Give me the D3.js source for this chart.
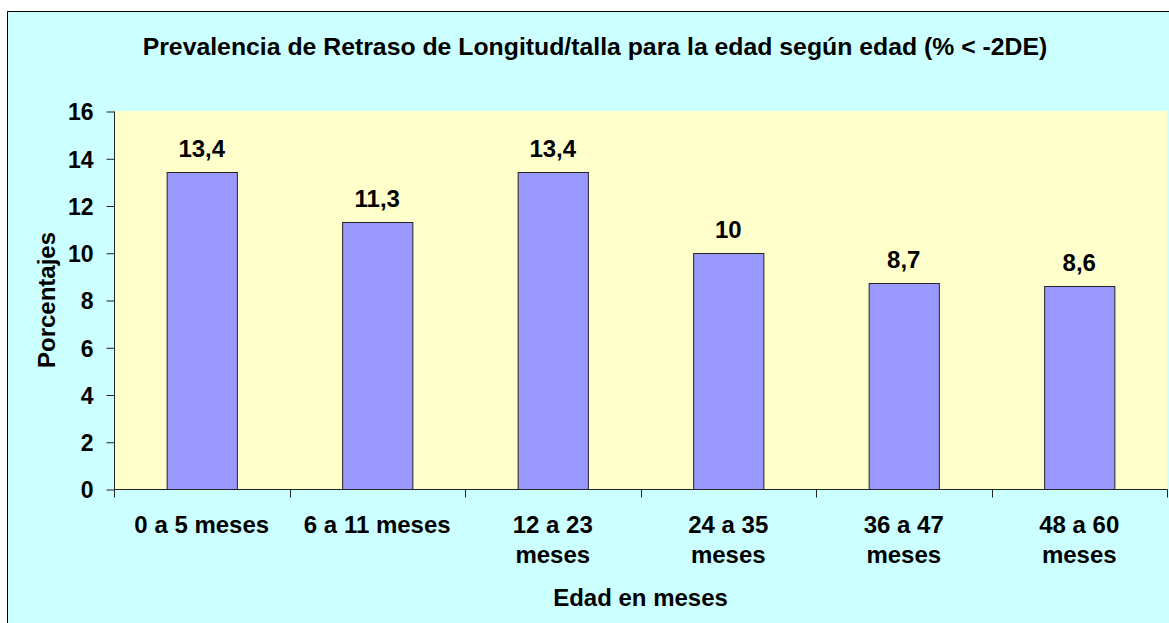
<!DOCTYPE html>
<html>
<head>
<meta charset="utf-8">
<script src="https://cdn.jsdelivr.net/npm/d3@7"></script>
<style>
  body { margin: 0; background: #fff; }
  text { font-family: "Liberation Sans", Arial, sans-serif; font-weight: bold; fill: #000; }
</style>
</head>
<body>
<div id="root"></div>
<script>
const WIDTH = 1169;
const HEIGHT = 623;
const MARGIN = {top: 111, right: 2, bottom: 134, left: 114};
const FONT = "24px";

const categories = [["0 a 5 meses"], ["6 a 11 meses"], ["12 a 23", "meses"], ["24 a 35", "meses"], ["36 a 47", "meses"], ["48 a 60", "meses"]];
const values = [13.4, 11.3, 13.4, 10, 8.7, 8.6];
const valueLabels = ["13,4", "11,3", "13,4", "10", "8,7", "8,6"];
const yTicks = [0, 2, 4, 6, 8, 10, 12, 14, 16];

const svg = d3.select("#root")
    .append("svg")
    .attr("width", WIDTH)
    .attr("height", HEIGHT);

// chart background + border
svg.append("rect")
    .attr("x", 7.5).attr("y", 11.5)
    .attr("width", WIDTH).attr("height", HEIGHT)
    .attr("fill", "#CCFFFF")
    .attr("stroke", "#000")
    .attr("stroke-width", 1);

const xScale = d3.scaleBand()
    .domain(d3.range(categories.length))
    .range([MARGIN.left, WIDTH - MARGIN.right])
    .paddingInner(0.6)
    .paddingOuter(0.3);

const bandScale = d3.scaleBand()
    .domain(d3.range(categories.length))
    .range([MARGIN.left, WIDTH - MARGIN.right]);

const yScale = d3.scaleLinear()
    .domain([0, 16])
    .range([HEIGHT - MARGIN.bottom, MARGIN.top]);

// plot area
svg.append("rect")
    .attr("x", MARGIN.left).attr("y", MARGIN.top)
    .attr("width", WIDTH - MARGIN.right - MARGIN.left)
    .attr("height", yScale(0) - MARGIN.top)
    .attr("fill", "#FFFFCC");

// bars
svg.selectAll(".bar")
    .data(values)
    .enter()
    .append("rect")
    .attr("class", "bar")
    .attr("x", (d, i) => xScale(i) + 0.5)
    .attr("y", d => Math.round(yScale(d)) + 0.5)
    .attr("width", xScale.bandwidth())
    .attr("height", d => yScale(0) - Math.round(yScale(d)))
    .attr("fill", "#9999FF")
    .attr("stroke", "#222")
    .attr("stroke-width", 1);

// value labels
svg.selectAll(".val")
    .data(values)
    .enter()
    .append("text")
    .attr("class", "val")
    .attr("x", (d, i) => xScale(i) + xScale.bandwidth() / 2)
    .attr("y", d => yScale(d) - 15)
    .attr("text-anchor", "middle")
    .style("font-size", FONT)
    .text((d, i) => valueLabels[i]);

// y axis
const yAxis = d3.axisLeft(yScale).tickValues(yTicks).tickSize(8).tickPadding(13).tickFormat(d3.format("d"));
const yG = svg.append("g")
    .attr("transform", `translate(${MARGIN.left + 0.5},0.5)`)
    .call(yAxis);
yG.selectAll("text").style("font-size", "23px").attr("dy", "0.36em");
yG.selectAll("line").attr("stroke", "#222");
yG.select(".domain").attr("stroke", "#222").attr("d", `M0,${MARGIN.top}V${yScale(0)}`);

// x axis
const xAxis = d3.axisBottom(bandScale).tickSize(0).tickFormat("");
const xG = svg.append("g")
    .attr("transform", `translate(0.5,${yScale(0) + 0.5})`)
    .call(xAxis);
xG.select(".domain").attr("stroke", "#222").attr("d", `M${MARGIN.left},0H${WIDTH - MARGIN.right}`);
xG.selectAll(".tick").remove();

// category boundary ticks
const boundaries = d3.range(categories.length + 1).map(i => MARGIN.left + i * bandScale.bandwidth());
xG.selectAll(".btick")
    .data(boundaries)
    .enter()
    .append("line")
    .attr("x1", d => Math.round(d)).attr("x2", d => Math.round(d))
    .attr("y1", 0).attr("y2", 8)
    .attr("stroke", "#222");

// category labels
const catText = svg.selectAll(".cat")
    .data(categories)
    .enter()
    .append("text")
    .attr("class", "cat")
    .attr("text-anchor", "middle")
    .style("font-size", FONT);
catText.selectAll("tspan")
    .data((d, i) => d.map(line => ({line, i})))
    .enter()
    .append("tspan")
    .attr("x", d => bandScale(d.i) + bandScale.bandwidth() / 2)
    .attr("y", (d, j) => 533 + j * 30)
    .text(d => d.line);

// title
svg.append("text")
    .attr("x", 595)
    .attr("y", 55)
    .attr("text-anchor", "middle")
    .style("font-size", "24.8px")
    .text("Prevalencia de Retraso de Longitud/talla para la edad según edad (% < -2DE)");

// y label
svg.append("text")
    .attr("transform", `translate(55, ${(MARGIN.top + yScale(0)) / 2}) rotate(-90)`)
    .attr("text-anchor", "middle")
    .style("font-size", FONT)
    .text("Porcentajes");

// x label
svg.append("text")
    .attr("x", (MARGIN.left + WIDTH - MARGIN.right) / 2)
    .attr("y", 606)
    .attr("text-anchor", "middle")
    .style("font-size", FONT)
    .text("Edad en meses");
</script>
</body>
</html>
